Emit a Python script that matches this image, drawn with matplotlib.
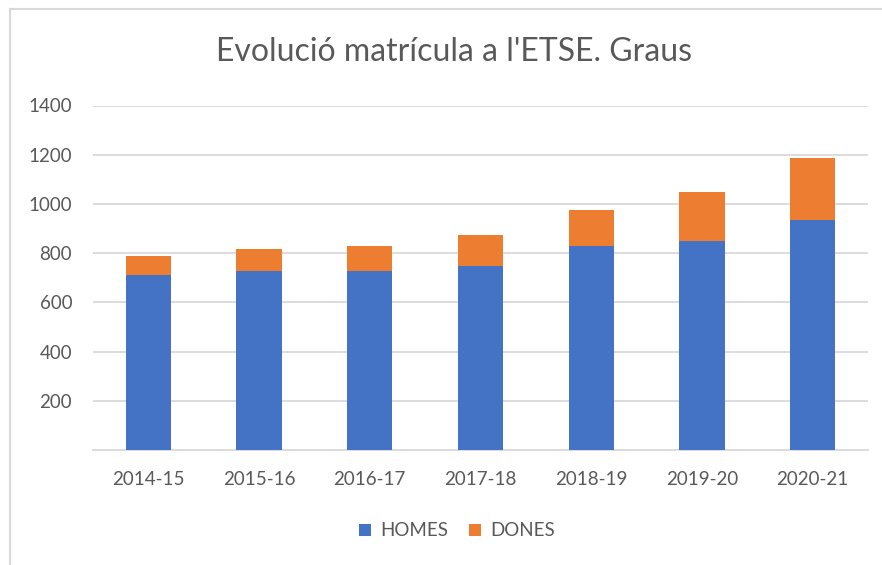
import matplotlib.pyplot as plt
from matplotlib.lines import Line2D

# DATA
cursos = ['2014-15', '2015-16', '2016-17', '2017-18', '2018-19', '2019-20', '2020-21']
homes = [713, 728, 728, 749, 827, 848, 936]
dones = [77, 88, 99, 124, 149, 201, 249]
yticks = [200, 400, 600, 800, 1000, 1200, 1400]

plt.rcParams['font.family'] = ['Lato', 'DejaVu Sans']

fig = plt.figure(figsize=(8.82, 5.65), dpi=100)
ax = fig.add_axes([93 / 882, 1 - 450 / 565, 775 / 882, 344.5 / 565])

x = range(len(cursos))
ax.bar(x, homes, width=0.41, color='#4472C4', label='HOMES', zorder=3)
ax.bar(x, dones, width=0.41, bottom=homes, color='#ED7D31', label='DONES', zorder=3)

ax.set_ylim(0, 1400)
ax.set_xlim(-0.5, len(cursos) - 0.5)
ax.set_yticks(yticks)
ax.set_xticks(list(x))
ax.set_xticklabels(cursos)
ax.grid(axis='y', color='#D9D9D9', linewidth=1.3, zorder=0)
ax.tick_params(axis='both', length=0, colors='#595959', labelsize=13.5)
ax.tick_params(axis='x', pad=15)
ax.tick_params(axis='y', pad=15)
for s in ['top', 'right', 'left']:
    ax.spines[s].set_visible(False)
ax.spines['bottom'].set_color('#D9D9D9')
ax.spines['bottom'].set_linewidth(1.3)

fig.text(0.515, 1 - 52 / 565, "Evolució matrícula a l'ETSE. Graus",
         ha='center', va='center', fontsize=23, color='#595959')

fig.legend(loc='center', bbox_to_anchor=(0.518, 1 - 531 / 565), ncol=2,
           frameon=False, fontsize=13.5, labelcolor='#595959',
           handlelength=0.65, handleheight=0.65, handletextpad=0.5, columnspacing=1.1)

# chart frame
fig.add_artist(Line2D([10 / 882, 1], [1 - 9 / 565, 1 - 9 / 565], color='#D9D9D9', lw=1.5))
fig.add_artist(Line2D([10 / 882, 10 / 882], [0, 1 - 9 / 565], color='#D9D9D9', lw=1.5))

fig.savefig('out.png', dpi=100)
